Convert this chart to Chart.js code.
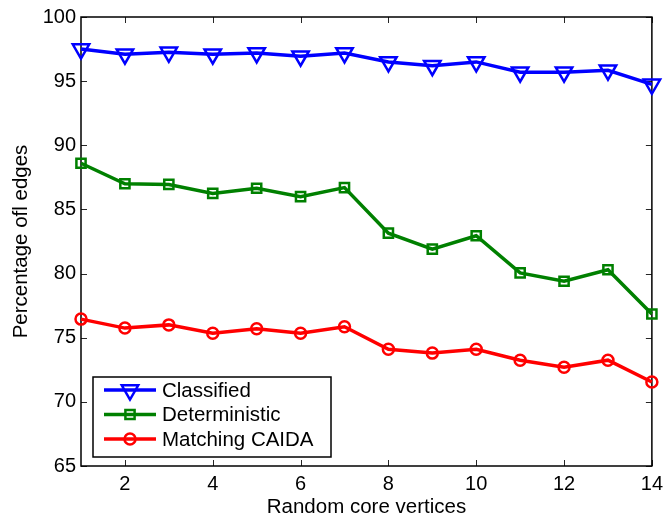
<!DOCTYPE html>
<html>
<head>
<meta charset="utf-8">
<script src="https://cdn.jsdelivr.net/npm/chart.js@4/dist/chart.umd.min.js"></script>
<style>
  html, body { margin: 0; padding: 0; background: #fff; }
  #wrap { width: 669px; height: 520px; }
</style>
</head>
<body>
<div id="wrap"><canvas id="line-chart" width="669" height="520"></canvas></div>
<script>
// data
const xValues = [1, 2, 3, 4, 5, 6, 7, 8, 9, 10, 11, 12, 13, 14];
const classified = [97.5, 97.1, 97.25, 97.1, 97.2, 96.95, 97.2, 96.5, 96.2, 96.5, 95.7, 95.7, 95.85, 94.75];
const deterministic = [88.6, 87.0, 86.95, 86.25, 86.65, 86.0, 86.7, 83.15, 81.9, 82.95, 80.05, 79.4, 80.3, 76.85];
const matching = [76.45, 75.75, 76.0, 75.35, 75.7, 75.35, 75.85, 74.1, 73.8, 74.1, 73.25, 72.7, 73.25, 71.55];
const xTicks = [2, 4, 6, 8, 10, 12, 14];
const yTicks = [65, 70, 75, 80, 85, 90, 95, 100];

const fontFamily = '"Liberation Sans", Arial, Helvetica, sans-serif';

function toPoints(ys) {
    return xValues.map((x, i) => ({ x: x, y: ys[i] }));
}

// box and inward tick marks, like the original figure
const frame = {
    id: 'frame',
    beforeDatasetsDraw(chart) {
        const { ctx, chartArea: a, scales } = chart;
        ctx.save();
        ctx.strokeStyle = '#262626';
        ctx.lineWidth = 1;
        xTicks.forEach(v => {
            const px = Math.round(scales.x.getPixelForValue(v)) + 0.5;
            ctx.beginPath();
            ctx.moveTo(px, a.bottom); ctx.lineTo(px, a.bottom - 6);
            ctx.moveTo(px, a.top); ctx.lineTo(px, a.top + 6);
            ctx.stroke();
        });
        yTicks.forEach(v => {
            const py = Math.round(scales.y.getPixelForValue(v)) + 0.5;
            ctx.beginPath();
            ctx.moveTo(a.left, py); ctx.lineTo(a.left + 6, py);
            ctx.moveTo(a.right, py); ctx.lineTo(a.right - 6, py);
            ctx.stroke();
        });
        ctx.strokeStyle = '#000';
        ctx.lineWidth = 1.5;
        ctx.strokeRect(a.left, a.top, a.right - a.left, a.bottom - a.top);
        ctx.restore();
    }
};

// legend inside the plot, bottom left
const boxLegend = {
    id: 'boxLegend',
    afterDraw(chart) {
        const ctx = chart.ctx;
        const left = 93, top = 377, w = 238, h = 80;
        ctx.save();
        ctx.fillStyle = '#fff';
        ctx.fillRect(left, top, w, h);
        ctx.strokeStyle = '#000';
        ctx.lineWidth = 1.5;
        ctx.strokeRect(left, top, w, h);
        chart.data.datasets.forEach((ds, i) => {
            const y = 390 + i * 24.5;
            ctx.strokeStyle = ds.borderColor;
            ctx.lineWidth = ds.borderWidth;
            ctx.beginPath();
            ctx.moveTo(104, y); ctx.lineTo(156, y);
            ctx.stroke();
            ctx.lineWidth = ds.pointBorderWidth;
            ctx.fillStyle = 'rgba(0,0,0,0)';
            Chart.helpers.drawPoint(ctx, {
                pointStyle: ds.pointStyle,
                rotation: ds.pointRotation || 0,
                radius: ds.pointRadius,
                borderWidth: ds.pointBorderWidth
            }, 130, y);
            ctx.fillStyle = '#000';
            ctx.font = '20.5px ' + fontFamily;
            ctx.textBaseline = 'middle';
            ctx.textAlign = 'left';
            ctx.fillText(ds.label, 162, y + 1);
        });
        ctx.restore();
    }
};

function series(label, ys, color, style, radius, rotation) {
    return {
        label: label,
        data: toPoints(ys),
        borderColor: color,
        backgroundColor: color,
        borderWidth: 3.5,
        pointStyle: style,
        pointRadius: radius,
        pointHoverRadius: radius,
        pointRotation: rotation,
        pointBorderColor: color,
        pointBackgroundColor: 'rgba(0,0,0,0)',
        pointBorderWidth: 2.5,
        tension: 0,
        clip: false
    };
}

let chart = new Chart(document.getElementById('line-chart').getContext('2d'), {
    type: 'line',
    data: {
        datasets: [
            series('Classified', classified, '#0000ff', 'triangle', 9.5, 180),
            series('Deterministic', deterministic, '#008000', 'rect', 6.5, 0),
            series('Matching CAIDA', matching, '#ff0000', 'circle', 5.5, 0)
        ]
    },
    options: {
        responsive: false,
        animation: false,
        layout: { padding: { left: 0, right: 14, top: 17, bottom: 0 } },
        plugins: {
            legend: { display: false },
            tooltip: { enabled: false }
        },
        scales: {
            x: {
                type: 'linear',
                min: 1,
                max: 14,
                afterBuildTicks: s => { s.ticks = xTicks.map(v => ({ value: v })); },
                afterFit: s => { s.height = 54; },
                grid: { display: false, drawTicks: false },
                border: { display: false },
                ticks: { color: '#000', padding: 6, font: { family: fontFamily, size: 20 } },
                title: {
                    display: true,
                    text: 'Random core vertices',
                    color: '#000',
                    padding: { top: 0, bottom: 0 },
                    font: { family: fontFamily, size: 20.5 }
                }
            },
            y: {
                min: 65,
                max: 100,
                afterBuildTicks: s => { s.ticks = yTicks.map(v => ({ value: v })); },
                afterFit: s => { s.width = 81; },
                grid: { display: false, drawTicks: false },
                border: { display: false },
                ticks: { color: '#000', padding: 5, font: { family: fontFamily, size: 20 } },
                title: {
                    display: true,
                    text: 'Percentage ofl edges',
                    color: '#000',
                    padding: { top: 9, bottom: 0 },
                    font: { family: fontFamily, size: 20.5 }
                }
            }
        }
    },
    plugins: [frame, boxLegend]
});
</script>
</body>
</html>
